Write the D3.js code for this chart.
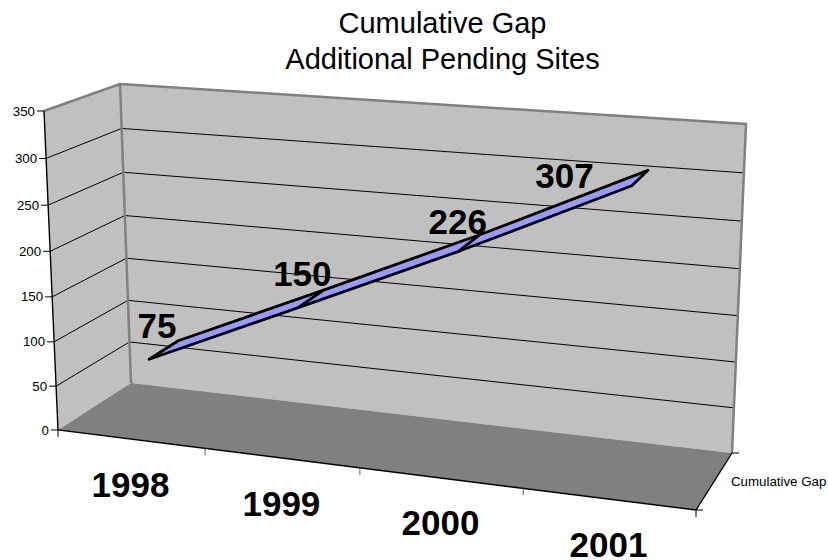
<!DOCTYPE html>
<html lang="en">
<head>
  <meta charset="UTF-8">
  <script src="https://d3js.org/d3.v7.min.js"></script>
  <title>Cumulative Gap</title>
  <style>
    html, body { margin: 0; padding: 0; background: #fff; overflow: hidden; }
    text { font-family: "Liberation Sans", Arial, sans-serif; fill: #000; }
  </style>
</head>
<body>
  <script>
    const categories = ["1998", "1999", "2000", "2001"];
    const seriesName = "Cumulative Gap";
    const gapValues = [75, 150, 226, 307];
    const valueTicks = [0, 50, 100, 150, 200, 250, 300, 350];
    const titleLines = ["Cumulative Gap", "Additional Pending Sites"];

    /*=================*/
    /* Box in the page */
    /*=================*/
    const width = 828, height = 560;

    // pixel corners of the 3D box, named front/back, left/right, floor/top
    const corners = {
      flf: [58, 430],  flt: [44, 111],
      frf: [696, 510], frt: [714, 159],
      blf: [131, 383], blt: [120, 84],
      brf: [732, 453], brt: [746, 124]
    };
    const perspective = 0.898;   // right side is further away, so categories get wider
    const perspectiveUp = 0.955; // same thing going up the walls
    const ribbonDepth = [0.3, 0.72];
    const labelNudge = [-6, -8, -11, -75];
    const labelRise = [-12.5, -13.5, -9.5, 10];

    const svg = d3.select("body").append("svg")
      .attr("width", width)
      .attr("height", height)
      .style("display", "block");

    /*========*/
    /* Scales */
    /*========*/
    const xScale = d3.scaleBand().domain(categories).range([0, 1]);
    const yScale = d3.scaleLinear().domain([0, 350]).range([0, 1]);
    const warp = (t, k) => k * t / (1 + (k - 1) * t);
    const mix = (a, b, t) => [a[0] + (b[0] - a[0]) * t, a[1] + (b[1] - a[1]) * t];

    // u: across, v: up, d: into the page, all 0..1
    function project(u, v, d) {
      const w = warp(u, perspective), h = warp(v, perspectiveUp);
      const front = mix(mix(corners.flf, corners.frf, w), mix(corners.flt, corners.frt, w), h);
      const back = mix(mix(corners.blf, corners.brf, w), mix(corners.blt, corners.brt, w), h);
      return mix(front, back, d);
    }
    const catU = c => xScale(c) + xScale.bandwidth() / 2;
    const line = d3.line();
    const closed = d3.line().curve(d3.curveLinearClosed);

    /*==================*/
    /* Walls and floor  */
    /*==================*/
    const wallFill = "#c0c0c0", floorFill = "#808080", edge = "#808080";

    svg.append("path")
      .attr("d", closed([project(0, 0, 0), project(0, 1, 0), project(0, 1, 1), project(0, 0, 1)]))
      .attr("fill", wallFill);
    svg.append("path")
      .attr("d", closed([project(0, 0, 1), project(0, 1, 1), project(1, 1, 1), project(1, 0, 1)]))
      .attr("fill", wallFill);
    svg.append("path")
      .attr("d", closed([project(0, 0, 0), project(0, 0, 1), project(1, 0, 1), project(1, 0, 0)]))
      .attr("fill", floorFill);

    // gridlines
    valueTicks.slice(1, -1).forEach(v => {
      svg.append("path")
        .attr("d", line([project(0, yScale(v), 0), project(0, yScale(v), 1), project(1, yScale(v), 1)]))
        .attr("fill", "none")
        .attr("stroke", "#000")
        .attr("stroke-width", 1);
    });

    // grey wall outline
    svg.append("path")
      .attr("d", line([project(0, 1, 0), project(0, 1, 1), project(1, 1, 1), project(1, 0, 1)]))
      .attr("fill", "none").attr("stroke", edge).attr("stroke-width", 2.5);
    svg.append("path")
      .attr("d", line([project(0, 1, 1), project(0, 0, 1)]))
      .attr("fill", "none").attr("stroke", edge).attr("stroke-width", 2.5);

    /*======*/
    /* Axes */
    /*======*/
    svg.append("path")
      .attr("d", line([project(0, 1, 0), project(0, 0, 0), project(1, 0, 0), project(1, 0, 1)]))
      .attr("fill", "none").attr("stroke", "#000").attr("stroke-width", 1.4);

    const yTicks = svg.append("g");
    valueTicks.forEach(v => {
      const p = project(0, yScale(v), 0);
      yTicks.append("line")
        .attr("x1", p[0] - 7).attr("x2", p[0]).attr("y1", p[1]).attr("y2", p[1])
        .attr("stroke", "#000");
      yTicks.append("text")
        .attr("x", p[0] - 9).attr("y", p[1] + 4.5)
        .attr("text-anchor", "end")
        .style("font-size", "13.3px")
        .text(v);
    });

    // category ticks sit on the band edges
    const xTicks = svg.append("g");
    d3.range(categories.length + 1).forEach(i => {
      const p = project(i * xScale.bandwidth(), 0, 0);
      xTicks.append("line")
        .attr("x1", p[0]).attr("x2", p[0]).attr("y1", p[1]).attr("y2", p[1] + 7)
        .attr("stroke", i === 0 || i === categories.length ? "#000" : "#606060");
    });

    categories.forEach(c => {
      const p = project(catU(c), 0, 0);
      svg.append("text")
        .attr("x", p[0]).attr("y", p[1] + 57.5)
        .attr("text-anchor", "middle")
        .style("font-size", "35px")
        .style("font-weight", "bold")
        .text(c);
    });

    // depth axis ticks and series name
    [project(1, 0, 0), project(1, 0, 1)].forEach(p => {
      svg.append("line")
        .attr("x1", p[0]).attr("x2", p[0] + 7).attr("y1", p[1]).attr("y2", p[1])
        .attr("stroke", "#000");
    });
    const depthMid = project(1, 0, 0.5);
    svg.append("text")
      .attr("x", depthMid[0] + 17).attr("y", depthMid[1] + 4.5)
      .style("font-size", "13.3px")
      .text(seriesName);

    /*========*/
    /* Ribbon */
    /*========*/
    d3.pairs(categories.map((c, i) => i)).forEach(([a, b]) => {
      const ua = catU(categories[a]), ub = catU(categories[b]);
      const va = yScale(gapValues[a]), vb = yScale(gapValues[b]);
      svg.append("path")
        .attr("d", closed([
          project(ua, va, ribbonDepth[0]),
          project(ua, va, ribbonDepth[1]),
          project(ub, vb, ribbonDepth[1]),
          project(ub, vb, ribbonDepth[0])
        ]))
        .attr("fill", "#9999ff")
        .attr("stroke", "#000")
        .attr("stroke-width", 2.8)
        .attr("stroke-linejoin", "round");
    });

    /*=============*/
    /* Data labels */
    /*=============*/
    gapValues.forEach((v, i) => {
      const p = project(catU(categories[i]), yScale(v), 0.5);
      svg.append("text")
        .attr("x", p[0] + labelNudge[i]).attr("y", p[1] + labelRise[i])
        .attr("text-anchor", "middle")
        .style("font-size", "35px")
        .style("font-weight", "bold")
        .text(v);
    });

    /*=======*/
    /* Title */
    /*=======*/
    svg.selectAll(".title")
      .data(titleLines)
      .enter()
      .append("text")
      .attr("class", "title")
      .attr("x", 442.5)
      .attr("y", (d, i) => 32.5 + i * 36)
      .attr("text-anchor", "middle")
      .style("font-size", "29px")
      .text(d => d);
  </script>
</body>
</html>
